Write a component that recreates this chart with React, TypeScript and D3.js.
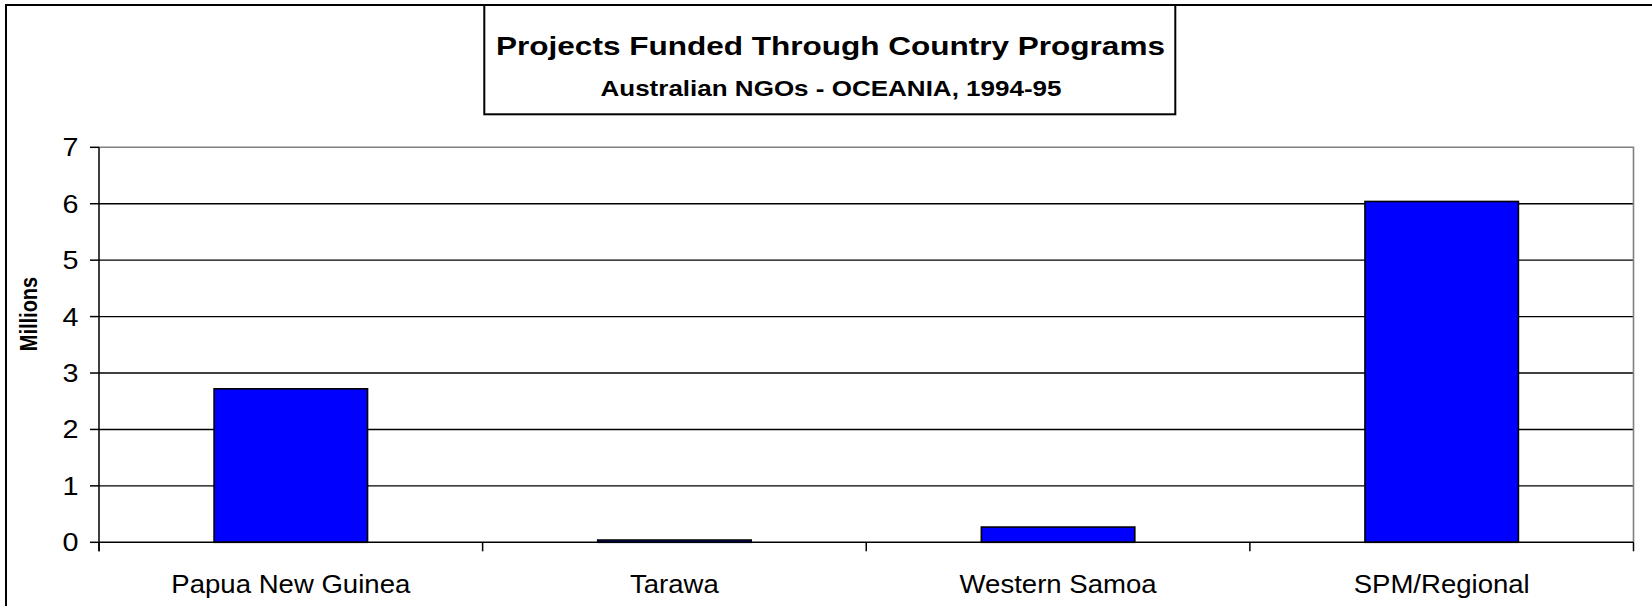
import React from "react";
import * as d3 from "d3";

const categories = ["Papua New Guinea", "Tarawa", "Western Samoa", "SPM/Regional"];
const values = [2.72, 0.04, 0.27, 6.04];
const yTicks = [0, 1, 2, 3, 4, 5, 6, 7];
const titleText = "Projects Funded Through Country Programs";
const subtitleText = "Australian NGOs - OCEANIA, 1994-95";
const yAxisTitle = "Millions";

const W = 1652;
const H = 606;
const FONT = "'Liberation Sans', Arial, sans-serif";

export default function App() {
  const left = 99, right = 1633.5, top = 147.3, bottom = 542.3;
  const x = d3.scaleBand<string>().domain(categories).range([left, right]).paddingInner(0.6).paddingOuter(0.3);
  const y = d3.scaleLinear().domain([0, 7]).range([bottom, top]);
  const step = x.step();
  const boundaries = d3.range(categories.length + 1).map((i) => left + i * step);

  return (
    <svg width={W} height={H} style={{ position: "absolute", left: 0, top: 0, background: "#fff" }}>
      <rect x={0} y={0} width={W} height={H} fill="#fff" />
      <rect x={6} y={5} width={1800} height={800} fill="none" stroke="#000" strokeWidth={2} />
      <rect x={484.3} y={5} width={691} height={109.3} fill="#fff" stroke="#000" strokeWidth={2} />
      <text transform={`translate(830.5,54.5) scale(1.19,1)`} textAnchor="middle" fontFamily={FONT} fontWeight="bold" fontSize={26.5}>
        {titleText}
      </text>
      <text transform={`translate(831,96) scale(1.21,1)`} textAnchor="middle" fontFamily={FONT} fontWeight="bold" fontSize={21.5}>
        {subtitleText}
      </text>

      {yTicks.filter((t) => t > 0 && t < 7).map((t) => (
        <line key={"g" + t} x1={left} x2={right} y1={y(t)} y2={y(t)} stroke="#000" strokeWidth={1.4} />
      ))}
      <polyline points={`${left},${y(7)} ${right},${y(7)} ${right},${bottom}`} fill="none" stroke="#808080" strokeWidth={1.6} />

      {categories.map((c, i) => (
        <rect
          key={c}
          x={x(c)}
          y={y(values[i])}
          width={x.bandwidth()}
          height={bottom - y(values[i])}
          fill="#0000FF"
          stroke="#000"
          strokeWidth={1.6}
        />
      ))}

      <line x1={left} x2={right} y1={bottom} y2={bottom} stroke="#000" strokeWidth={1.5} />
      <line x1={left} x2={left} y1={top} y2={bottom + 9} stroke="#000" strokeWidth={1.5} />
      {yTicks.map((t) => (
        <g key={"t" + t}>
          <line x1={left - 9} x2={left} y1={y(t)} y2={y(t)} stroke="#000" strokeWidth={1.5} />
          <text
            transform={`translate(78.5,${y(t) + 9}) scale(1.15,1)`}
            textAnchor="end"
            fontFamily={FONT}
            fontSize={25}
          >
            {t}
          </text>
        </g>
      ))}
      {boundaries.map((b, i) => (
        <line key={"xt" + i} x1={b} x2={b} y1={bottom} y2={bottom + 9} stroke="#000" strokeWidth={1.5} />
      ))}
      {categories.map((c) => (
        <text
          key={"l" + c}
          transform={`translate(${(x(c) as number) + x.bandwidth() / 2},592.5) scale(1.06,1)`}
          textAnchor="middle"
          fontFamily={FONT}
          fontSize={26}
        >
          {c}
        </text>
      ))}
      <text
        transform={`translate(36.5,314) scale(1.2,1) rotate(-90)`}
        textAnchor="middle"
        fontFamily={FONT}
        fontWeight="bold"
        fontSize={20}
      >
        {yAxisTitle}
      </text>
    </svg>
  );
}
